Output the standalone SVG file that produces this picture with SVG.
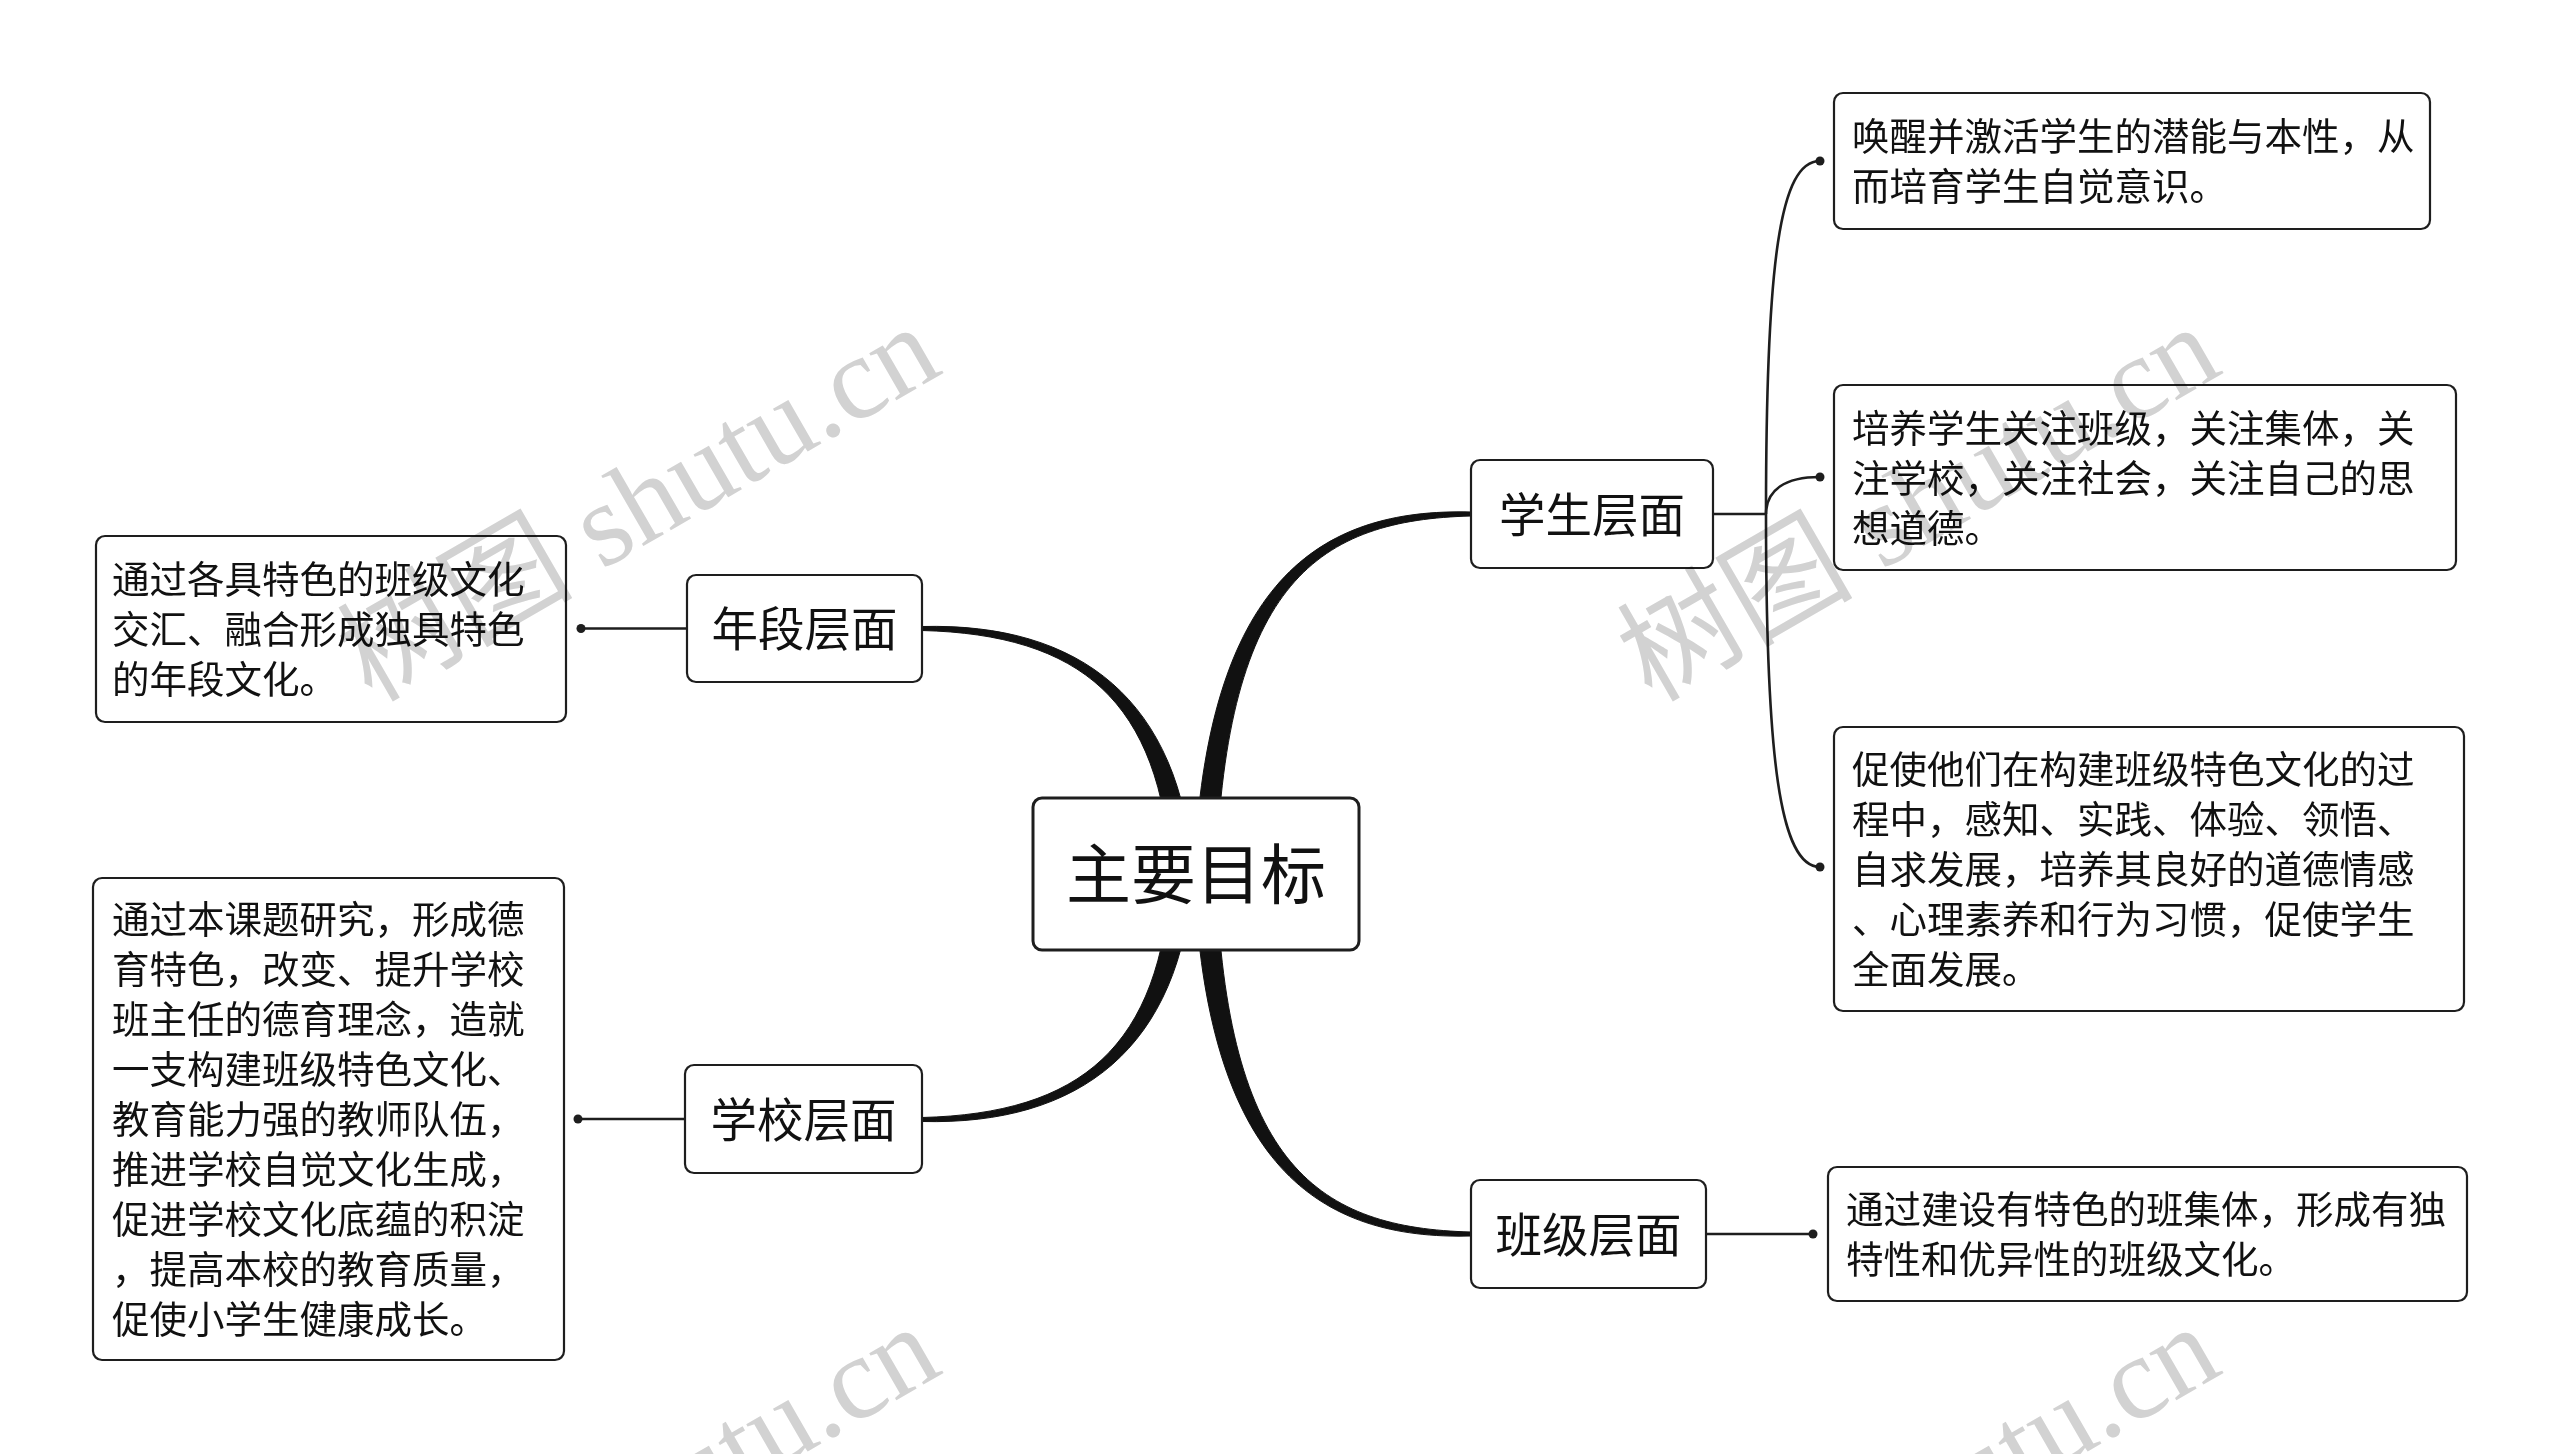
<svg xmlns="http://www.w3.org/2000/svg" width="2560" height="1454" viewBox="0 0 2560 1454">
<style>
.box{fill:#fff;stroke:#1e1e1e;stroke-width:2.2}
.root{fill:#fff;stroke:#1e1e1e;stroke-width:3}
.t{font-family:"Noto Sans CJK SC","Noto Sans",sans-serif;fill:#111;dominant-baseline:central}
.leaf{font-size:37.5px}
.br{font-size:46.5px;text-anchor:middle}
.rt{font-size:65px;text-anchor:middle}
.thick{fill:#111;stroke:#111;stroke-width:1}
.thin{fill:none;stroke:#1e1e1e;stroke-width:2.6}
.dot{fill:#1e1e1e}
.wm{font-family:"Liberation Serif","Noto Sans CJK SC",serif;font-size:118px;fill:#d2d2d2;text-anchor:end;mix-blend-mode:multiply}
</style>
<rect x="0" y="0" width="2560" height="1454" fill="#fff"/>
<g id="connectors">
  <path class="thick" d="M 1194 874 C 1206 580, 1320 508, 1471 512 L 1471 516 C 1320 520, 1226 580, 1216 874 Z"/>
  <path class="thick" d="M 1194 874 C 1206 1168, 1320 1240, 1471 1236 L 1471 1232 C 1320 1228, 1226 1168, 1216 874 Z"/>
  <path class="thick" d="M 1193 874 C 1181 700, 1080 622.5, 922 626.5 L 922 630.5 C 1080 634.5, 1161 700, 1171 874 Z"/>
  <path class="thick" d="M 1193 874 C 1181 1048, 1080 1125.5, 922 1121.5 L 922 1117.5 C 1080 1113.5, 1161 1048, 1171 874 Z"/>
  <path class="thin" d="M 687 628.5 L 581 628.5"/>
  <circle class="dot" cx="581" cy="628.5" r="4.5"/>
  <path class="thin" d="M 685 1119 L 578 1119"/>
  <circle class="dot" cx="578" cy="1119" r="4.5"/>
  <path class="thin" d="M 1713 514 L 1766 514"/>
  <path class="thin" d="M 1766 514 C 1766 260, 1780 161, 1820 161"/>
  <path class="thin" d="M 1766 514 C 1766 490, 1785 477, 1820 477"/>
  <path class="thin" d="M 1766 514 C 1766 760, 1780 867, 1820 867"/>
  <circle class="dot" cx="1820" cy="161" r="4.5"/>
  <circle class="dot" cx="1820" cy="477" r="4.5"/>
  <circle class="dot" cx="1820" cy="867" r="4.5"/>
  <path class="thin" d="M 1706 1234 L 1813 1234"/>
  <circle class="dot" cx="1813" cy="1234" r="4.5"/>
</g>
<g id="root">
  <rect class="root" x="1033" y="798" width="326" height="152" rx="9"/>
  <text class="t rt" x="1196" y="870">主要目标</text>
</g>
<g id="n-xuesheng">
  <rect class="box" x="1471" y="460" width="242" height="108" rx="9"/>
  <text class="t br" x="1592" y="511">学生层面</text>
</g>
<g id="n-banji">
  <rect class="box" x="1471" y="1180" width="235" height="108" rx="9"/>
  <text class="t br" x="1588.5" y="1231">班级层面</text>
</g>
<g id="n-nianduan">
  <rect class="box" x="687" y="575" width="235" height="107" rx="9"/>
  <text class="t br" x="804.5" y="625.5">年段层面</text>
</g>
<g id="n-xuexiao">
  <rect class="box" x="685" y="1065" width="237" height="108" rx="9"/>
  <text class="t br" x="803.5" y="1116">学校层面</text>
</g>
<g id="l-nianduan">
  <rect class="box" x="96" y="536" width="470" height="186" rx="9"/>
  <text class="t leaf" x="112">
    <tspan x="112" y="576">通过各具特色的班级文化</tspan>
    <tspan x="112" y="626">交汇、融合形成独具特色</tspan>
    <tspan x="112" y="676">的年段文化。</tspan>
  </text>
</g>
<g id="l-xuexiao">
  <rect class="box" x="93" y="878" width="471" height="482" rx="9"/>
  <text class="t leaf" x="112">
    <tspan x="112" y="916">通过本课题研究，形成德</tspan>
    <tspan x="112" y="966">育特色，改变、提升学校</tspan>
    <tspan x="112" y="1016">班主任的德育理念，造就</tspan>
    <tspan x="112" y="1066">一支构建班级特色文化、</tspan>
    <tspan x="112" y="1116">教育能力强的教师队伍，</tspan>
    <tspan x="112" y="1166">推进学校自觉文化生成，</tspan>
    <tspan x="112" y="1216">促进学校文化底蕴的积淀</tspan>
    <tspan x="112" y="1266">，提高本校的教育质量，</tspan>
    <tspan x="112" y="1316">促使小学生健康成长。</tspan>
  </text>
</g>
<g id="l-xs1">
  <rect class="box" x="1834" y="93" width="596" height="136" rx="9"/>
  <text class="t leaf">
    <tspan x="1852" y="133">唤醒并激活学生的潜能与本性，从</tspan>
    <tspan x="1852" y="183">而培育学生自觉意识。</tspan>
  </text>
</g>
<g id="l-xs2">
  <rect class="box" x="1834" y="385" width="622" height="185" rx="9"/>
  <text class="t leaf">
    <tspan x="1852" y="424.5">培养学生关注班级，关注集体，关</tspan>
    <tspan x="1852" y="474.5">注学校，关注社会，关注自己的思</tspan>
    <tspan x="1852" y="524.5">想道德。</tspan>
  </text>
</g>
<g id="l-xs3">
  <rect class="box" x="1834" y="727" width="630" height="284" rx="9"/>
  <text class="t leaf">
    <tspan x="1852" y="766">促使他们在构建班级特色文化的过</tspan>
    <tspan x="1852" y="816">程中，感知、实践、体验、领悟、</tspan>
    <tspan x="1852" y="866">自求发展，培养其良好的道德情感</tspan>
    <tspan x="1852" y="916">、心理素养和行为习惯，促使学生</tspan>
    <tspan x="1852" y="966">全面发展。</tspan>
  </text>
</g>
<g id="l-bj">
  <rect class="box" x="1828" y="1167" width="639" height="134" rx="9"/>
  <text class="t leaf">
    <tspan x="1846" y="1206">通过建设有特色的班集体，形成有独</tspan>
    <tspan x="1846" y="1256">特性和优异性的班级文化。</tspan>
  </text>
</g>
<g id="watermark">
  <text class="wm" transform="translate(945 372) rotate(-30)">树图 shutu.cn</text>
  <text class="wm" transform="translate(2225 372) rotate(-30)">树图 shutu.cn</text>
  <text class="wm" transform="translate(945 1372) rotate(-30)">树图 shutu.cn</text>
  <text class="wm" transform="translate(2225 1372) rotate(-30)">树图 shutu.cn</text>
</g>
</svg>
